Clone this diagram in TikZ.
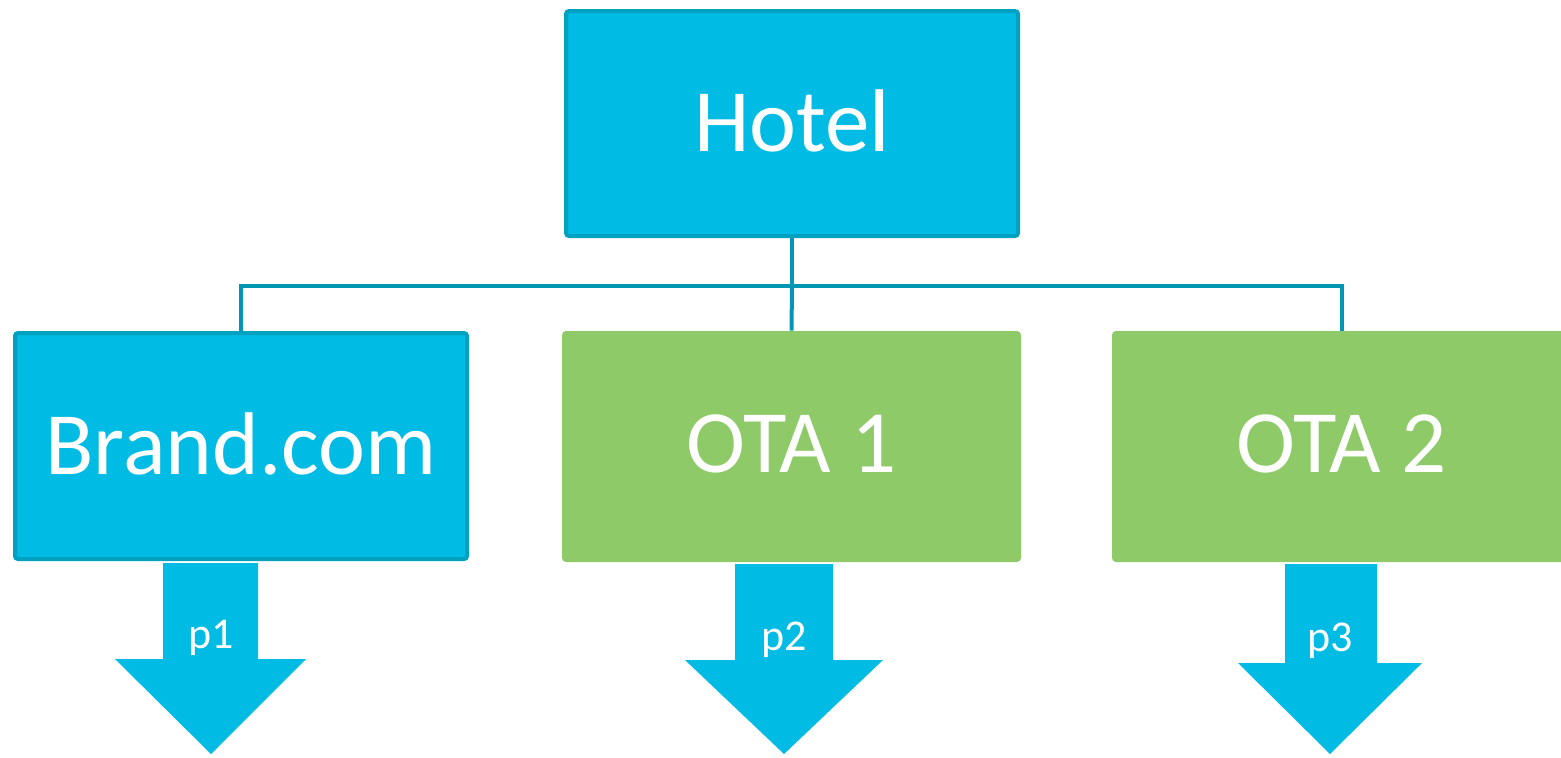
\documentclass[tikz,border=0pt]{standalone}
\usepackage{fontspec}
\setmainfont{Carlito}
\definecolor{hotelblue}{RGB}{0,187,227}
\definecolor{boxedge}{RGB}{0,160,192}
\definecolor{linkblue}{RGB}{0,150,180}
\definecolor{otagreen}{RGB}{143,202,105}

\begin{document}
\begin{tikzpicture}[x=0.5pt,y=-0.5pt,
  bluebox/.style={draw=boxedge,fill=hotelblue,line width=2pt,rounded corners=1.5pt,
    text=white,text depth=2.5pt,font=\fontsize{44.5}{53}\selectfont},
  greenbox/.style={fill=otagreen,rounded corners=2pt,
    text=white,text depth=2.5pt,font=\fontsize{44.5}{53}\selectfont},
  link/.style={draw=linkblue,line width=2pt},
  price/.style={text=white,font=\fontsize{22}{26}\selectfont}]
\useasboundingbox (0,0) rectangle (1561,757);
\clip (0,0) rectangle (1561,757);
\node[bluebox,minimum width=226pt,minimum height=112.5pt] (hotel) at (792,123.5) {Hotel};
\node[bluebox,minimum width=226pt,minimum height=113pt] (brand) at (241,446) {Brand.com};
\node[greenbox,minimum width=229.5pt,minimum height=115.5pt] (ota1) at (791.5,446.5) {OTA 1};
\node[greenbox,minimum width=229.5pt,minimum height=115.5pt] (ota2) at (1341.5,446.5) {OTA 2};
\coordinate (bus) at (792,286);
\draw[link] (hotel.south) -- (hotel.south |- bus) -| (brand.north);
\draw[link] (hotel.south |- bus) -- (ota1.north);
\draw[link] (hotel.south |- bus) -| (ota2.north);
\fill[hotelblue] (163,563) -- (163,659) -- (115,659) -- (211,754) -- (306,659) -- (258,659) -- (258,563) -- cycle;
\node[price] (p1) at (211,638) {p1};
\fill[hotelblue] (735,564) -- (735,660) -- (685,660) -- (784,754) -- (883,660) -- (833,660) -- (833,564) -- cycle;
\node[price] (p2) at (784,640) {p2};
\fill[hotelblue] (1285,564) -- (1285,663) -- (1238,663) -- (1330,754) -- (1422,663) -- (1377,663) -- (1377,564) -- cycle;
\node[price] (p3) at (1330,641) {p3};
\end{tikzpicture}
\end{document}
